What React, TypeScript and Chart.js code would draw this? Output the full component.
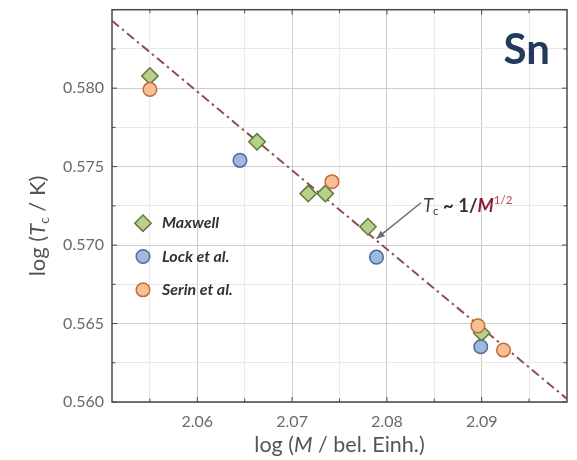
import React, { useEffect, useRef } from "react";
import { Chart, registerables } from "chart.js";

Chart.register(...registerables);

// ---- data ----
const maxwellX = [2.055, 2.0663, 2.0717, 2.0735, 2.078, 2.09];
const maxwellY = [0.58078, 0.57658, 0.57328, 0.57328, 0.57117, 0.5644];
const lockX = [2.0645, 2.0789, 2.0899];
const lockY = [0.5754, 0.56923, 0.56352];
const serinX = [2.055, 2.0742, 2.0896, 2.0923];
const serinY = [0.57992, 0.57404, 0.56485, 0.56331];
const fitX = [2.051, 2.099];
const fitY = [0.5843, 0.5602];

const xMajorTicks = [2.06, 2.07, 2.08, 2.09];
const yMajorTicks = [0.56, 0.565, 0.57, 0.575, 0.58];
const legendLabels = ["Maxwell", "Lock et al.", "Serin et al."];

// annotation anchor positions (data coords)
const arrowFrom = { x: 2.0836, y: 0.5727 };
const arrowTo = { x: 2.0789, y: 0.57041 };
const noteAt = { x: 2.0838, y: 0.57246 };
const elementAt = { x: 2.0972, y: 0.58242 };

const FONT = "Lato, 'Noto Sans', sans-serif";

type Seg = { t: string; i?: boolean; b?: boolean; sub?: boolean; sup?: boolean; c?: string };

function segFont(s: Seg, size: number) {
  const sz = s.sub || s.sup ? size * 0.62 : size;
  return `${s.i ? "italic " : ""}${s.b ? "bold " : ""}${sz}px ${FONT}`;
}

function drawRich(ctx: CanvasRenderingContext2D, segs: Seg[], x: number, y: number, size: number, color: string, align: "left" | "center") {
  ctx.save();
  ctx.textBaseline = "middle";
  ctx.textAlign = "left";
  let total = 0;
  for (const s of segs) {
    ctx.font = segFont(s, size);
    total += ctx.measureText(s.t).width;
  }
  let cx = align === "center" ? x - total / 2 : x;
  for (const s of segs) {
    ctx.font = segFont(s, size);
    ctx.fillStyle = s.c || color;
    const dy = s.sub ? size * 0.28 : s.sup ? -size * 0.32 : 0;
    ctx.fillText(s.t, cx, y + dy);
    cx += ctx.measureText(s.t).width;
  }
  ctx.restore();
}

const xTickVals: number[] = [];
for (let i = 0; i <= 8; i++) xTickVals.push(Math.round((2.055 + i * 0.005) * 1000) / 1000);
const yTickVals: number[] = [];
for (let i = 0; i <= 10; i++) yTickVals.push(Math.round((0.56 + i * 0.0025) * 10000) / 10000);

const isMajorX = (v: number) => xMajorTicks.some((m) => Math.abs(m - v) < 1e-6);
const isMajorY = (v: number) => yMajorTicks.some((m) => Math.abs(m - v) < 1e-6) || Math.abs(v - 0.585) < 1e-6;

const decorPlugin = {
  id: "decor",
  beforeDatasetsDraw(chart: any) {
    const { ctx, chartArea: a, scales } = chart;
    ctx.save();
    ctx.strokeStyle = "#4a4a4a";
    ctx.lineWidth = 1.5;
    ctx.strokeRect(a.left, a.top, a.right - a.left, a.bottom - a.top);
    ctx.lineWidth = 1;
    ctx.beginPath();
    for (const v of xTickVals) {
      const px = scales.x.getPixelForValue(v);
      const l = isMajorX(v) ? 5 : 3.5;
      ctx.moveTo(px, a.bottom);
      ctx.lineTo(px, a.bottom - l);
      ctx.moveTo(px, a.top);
      ctx.lineTo(px, a.top + l);
    }
    for (const v of yTickVals) {
      const py = scales.y.getPixelForValue(v);
      const l = isMajorY(v) ? 5 : 3.5;
      ctx.moveTo(a.left, py);
      ctx.lineTo(a.left + l, py);
      ctx.moveTo(a.right, py);
      ctx.lineTo(a.right - l, py);
    }
    ctx.stroke();
    ctx.restore();
  },
  afterDraw(chart: any) {
    const { ctx, chartArea: a, scales } = chart;
    const X = (v: number) => scales.x.getPixelForValue(v);
    const Y = (v: number) => scales.y.getPixelForValue(v);

    // axis titles
    drawRich(ctx, [{ t: "log (" }, { t: "M", i: true }, { t: " / bel. Einh.)" }], (a.left + a.right) / 2, 445, 21.5, "#555", "center");
    ctx.save();
    ctx.translate(38, 226);
    ctx.rotate(-Math.PI / 2);
    drawRich(ctx, [{ t: "log (" }, { t: "T", i: true }, { t: "c", sub: true }, { t: " / K)" }], 0, 0, 22, "#555", "center");
    ctx.restore();

    // element label
    ctx.save();
    ctx.font = `bold 42px ${FONT}`;
    ctx.fillStyle = "#233a5c";
    ctx.textAlign = "right";
    ctx.textBaseline = "middle";
    ctx.fillText("Sn", X(elementAt.x), Y(elementAt.y));
    ctx.restore();

    // arrow
    const x1 = X(arrowFrom.x), y1 = Y(arrowFrom.y), x2 = X(arrowTo.x), y2 = Y(arrowTo.y);
    ctx.save();
    ctx.strokeStyle = "#6f6a80";
    ctx.fillStyle = "#6f6a80";
    ctx.lineWidth = 1.5;
    ctx.beginPath();
    ctx.moveTo(x1, y1);
    ctx.lineTo(x2, y2);
    ctx.stroke();
    const ang = Math.atan2(y2 - y1, x2 - x1);
    ctx.beginPath();
    ctx.moveTo(x2, y2);
    ctx.lineTo(x2 - 9 * Math.cos(ang - 0.4), y2 - 9 * Math.sin(ang - 0.4));
    ctx.lineTo(x2 - 9 * Math.cos(ang + 0.4), y2 - 9 * Math.sin(ang + 0.4));
    ctx.closePath();
    ctx.fill();
    ctx.restore();

    drawRich(
      ctx,
      [
        { t: "T", i: true, c: "#3e3e46" },
        { t: "c", sub: true, c: "#3e3e46" },
        { t: " ~ 1/", b: true, c: "#3a2e36" },
        { t: "M", i: true, b: true, c: "#8a1f38" },
        { t: "1/2", sup: true, c: "#c2455a" },
      ],
      X(noteAt.x),
      Y(noteAt.y),
      18.5,
      "#7a2335",
      "left"
    );

    // legend
    const ds = chart.data.datasets;
    const lx = a.left + 31;
    const ly0 = a.top + 213.5;
    const step = 33.3;
    for (let k = 0; k < 3; k++) {
      const d = ds[k];
      const cy = ly0 + k * step;
      ctx.save();
      ctx.fillStyle = d.backgroundColor;
      ctx.strokeStyle = d.borderColor;
      ctx.lineWidth = d.borderWidth;
      ctx.beginPath();
      if (d.pointStyle === "rectRot") {
        const r = d.pointRadius;
        ctx.moveTo(lx, cy - r);
        ctx.lineTo(lx + r, cy);
        ctx.lineTo(lx, cy + r);
        ctx.lineTo(lx - r, cy);
        ctx.closePath();
      } else {
        ctx.arc(lx, cy, d.pointRadius, 0, Math.PI * 2);
      }
      ctx.fill();
      ctx.stroke();
      ctx.font = `italic bold 16px ${FONT}`;
      ctx.fillStyle = "#333";
      ctx.textBaseline = "middle";
      ctx.fillText(legendLabels[k], lx + 19, cy);
      ctx.restore();
    }
  },
};

export default function App() {
  const ref = useRef<HTMLCanvasElement | null>(null);
  useEffect(() => {
    document.body.style.margin = "0";
    const toPts = (xs: number[], ys: number[]) => xs.map((x, i) => ({ x, y: ys[i] }));
    const chart = new Chart(ref.current as HTMLCanvasElement, {
      type: "scatter",
      data: {
        datasets: [
          {
            label: legendLabels[0],
            data: toPts(maxwellX, maxwellY),
            pointStyle: "rectRot",
            pointRadius: 8.2,
            backgroundColor: "#b8cf8e",
            borderColor: "#5e7c34",
            borderWidth: 1.5,
            order: 2,
          },
          {
            label: legendLabels[1],
            data: toPts(lockX, lockY),
            pointStyle: "circle",
            pointRadius: 6.8,
            backgroundColor: "#9fb8de",
            borderColor: "#4a6b9a",
            borderWidth: 1.5,
            order: 1,
          },
          {
            label: legendLabels[2],
            data: toPts(serinX, serinY),
            pointStyle: "circle",
            pointRadius: 6.8,
            backgroundColor: "#f7bf95",
            borderColor: "#c56a38",
            borderWidth: 1.5,
            order: 0,
          },
          {
            label: "fit",
            data: toPts(fitX, fitY),
            showLine: true,
            pointRadius: 0,
            borderColor: "#8e4e52",
            borderWidth: 2,
            borderDash: [9, 4, 2.5, 4],
            order: 3,
          } as any,
        ],
      },
      options: {
        animation: false,
        responsive: false,
        layout: { padding: { top: 8, right: 10, left: 0, bottom: 0 } },
        plugins: { legend: { display: false }, tooltip: { enabled: false } },
        scales: {
          x: {
            type: "linear",
            min: 2.051,
            max: 2.099,
            afterBuildTicks: (s: any) => {
              s.ticks = xTickVals.map((v) => ({ value: v }));
            },
            afterFit: (s: any) => {
              s.height = 58;
              s.paddingLeft = 0;
              s.paddingRight = 0;
            },
            ticks: {
              autoSkip: false,
              maxRotation: 0,
              padding: 10,
              color: "#6a6a6a",
              font: { family: FONT, size: 16 },
              callback: (v: any) => (isMajorX(Number(v)) ? Number(v).toFixed(2) : ""),
            },
            grid: {
              drawTicks: false,
              color: (c: any) => (c.tick && isMajorX(c.tick.value) ? "#cdcdcd" : "#e9e9e9"),
              lineWidth: 1,
            },
            border: { display: false },
          },
          y: {
            type: "linear",
            min: 0.56,
            max: 0.585,
            afterBuildTicks: (s: any) => {
              s.ticks = yTickVals.map((v) => ({ value: v }));
            },
            afterFit: (s: any) => {
              s.width = 112;
              s.paddingTop = 0;
              s.paddingBottom = 0;
            },
            ticks: {
              autoSkip: false,
              padding: 8,
              color: "#6a6a6a",
              font: { family: FONT, size: 16 },
              callback: (v: any) => {
                const n = Number(v);
                return yMajorTicks.some((m) => Math.abs(m - n) < 1e-6) ? n.toFixed(3) : "";
              },
            },
            grid: {
              drawTicks: false,
              color: (c: any) => (c.tick && isMajorY(c.tick.value) ? "#cdcdcd" : "#e9e9e9"),
              lineWidth: 1,
            },
            border: { display: false },
          },
        },
      },
      plugins: [decorPlugin],
    });
    return () => chart.destroy();
  }, []);
  return (
    <div style={{ width: 577, height: 460 }}>
      <canvas ref={ref} width={577} height={460} style={{ display: "block" }} />
    </div>
  );
}
